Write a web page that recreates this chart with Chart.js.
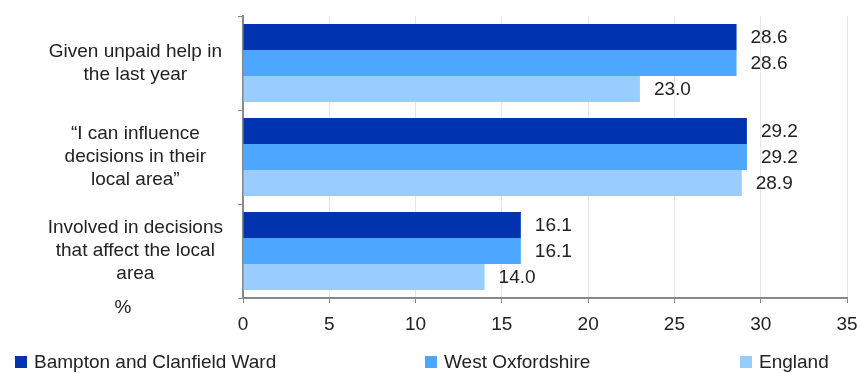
<!DOCTYPE html>
<html>
<head>
<meta charset="utf-8">
<script src="https://cdn.jsdelivr.net/npm/chart.js@4"></script>
<style>
  body { margin: 0; background: #fff; font-family: "Liberation Sans", Arial, sans-serif; }
  #wrap { position: relative; width: 859px; height: 373px; }
  .leg { position: absolute; top: 351px; font-size: 19px; color: #222; line-height: 22px; }
  .leg span { display: inline-block; width: 12px; height: 12px; margin-right: 7px; vertical-align: 0px; }
</style>
</head>
<body>
<div id="wrap">
  <canvas id="grafico" width="859" height="373"></canvas>
  <div class="leg" style="left:15px"><span style="background:#0033b0"></span>Bampton and Clanfield Ward</div>
  <div class="leg" style="left:425px"><span style="background:#4da6ff"></span>West Oxfordshire</div>
  <div class="leg" style="left:740px"><span style="background:#99ccff"></span>England</div>
</div>
<script>
// categorias (várias linhas)
const categorias = [
  ['Given unpaid help in', 'the last year'],
  ['\u201cI can influence', 'decisions in their', 'local area\u201d'],
  ['Involved in decisions', 'that affect the local', 'area']
];

const series = ['Bampton and Clanfield Ward', 'West Oxfordshire', 'England'];
const ward = [28.6, 29.2, 16.1];
const westOx = [28.6, 29.2, 16.1];
const england = [23.0, 28.9, 14.0];

const cores = ['#0033b0', '#4da6ff', '#99ccff'];
const fonte = '"Liberation Sans", Arial, sans-serif';

// rótulos de valor ao lado das barras
const rotulos = {
  id: 'rotulos',
  afterDatasetsDraw(chart) {
    const ctx = chart.ctx;
    ctx.save();
    ctx.font = '19px ' + fonte;
    ctx.fillStyle = '#222';
    ctx.textAlign = 'left';
    ctx.textBaseline = 'middle';
    chart.data.datasets.forEach((ds, i) => {
      chart.getDatasetMeta(i).data.forEach((bar, j) => {
        ctx.fillText(ds.data[j].toFixed(1), bar.x + 14, bar.y + 1);
      });
    });
    // o "%" no canto
    ctx.textAlign = 'center';
    ctx.fillText('%', 123, chart.chartArea.bottom + 10);
    ctx.restore();
  }
};

new Chart(document.getElementById('grafico').getContext('2d'), {
  type: 'bar',
  data: {
    labels: categorias,
    datasets: [
      { label: series[0], data: ward, backgroundColor: cores[0] },
      { label: series[1], data: westOx, backgroundColor: cores[1] },
      { label: series[2], data: england, backgroundColor: cores[2] }
    ]
  },
  options: {
    indexAxis: 'y',
    responsive: false,
    animation: false,
    categoryPercentage: 0.83,
    barPercentage: 1,
    layout: { padding: { top: 16, right: 12, bottom: 35, left: 0 } },
    plugins: { legend: { display: false }, tooltip: { enabled: false } },
    scales: {
      x: {
        min: 0,
        max: 35,
        ticks: { stepSize: 5, color: '#222', font: { family: fonte, size: 19 }, padding: 10 },
        grid: { color: '#e6e6e6', tickColor: '#888', tickLength: 5 },
        border: { color: '#888', width: 2 },
        afterFit(s) { s.height = 40; s.paddingLeft = 0; s.paddingRight = 0; }
      },
      y: {
        ticks: { color: '#222', font: { family: fonte, size: 19, lineHeight: 1.2 }, crossAlign: 'center', padding: 15 },
        grid: { drawOnChartArea: false, color: '#888', tickLength: 5 },
        border: { color: '#888', width: 2 },
        afterFit(s) { s.width = 243; s.paddingTop = 0; s.paddingBottom = 0; }
      }
    }
  },
  plugins: [rotulos]
});
</script>
</body>
</html>
